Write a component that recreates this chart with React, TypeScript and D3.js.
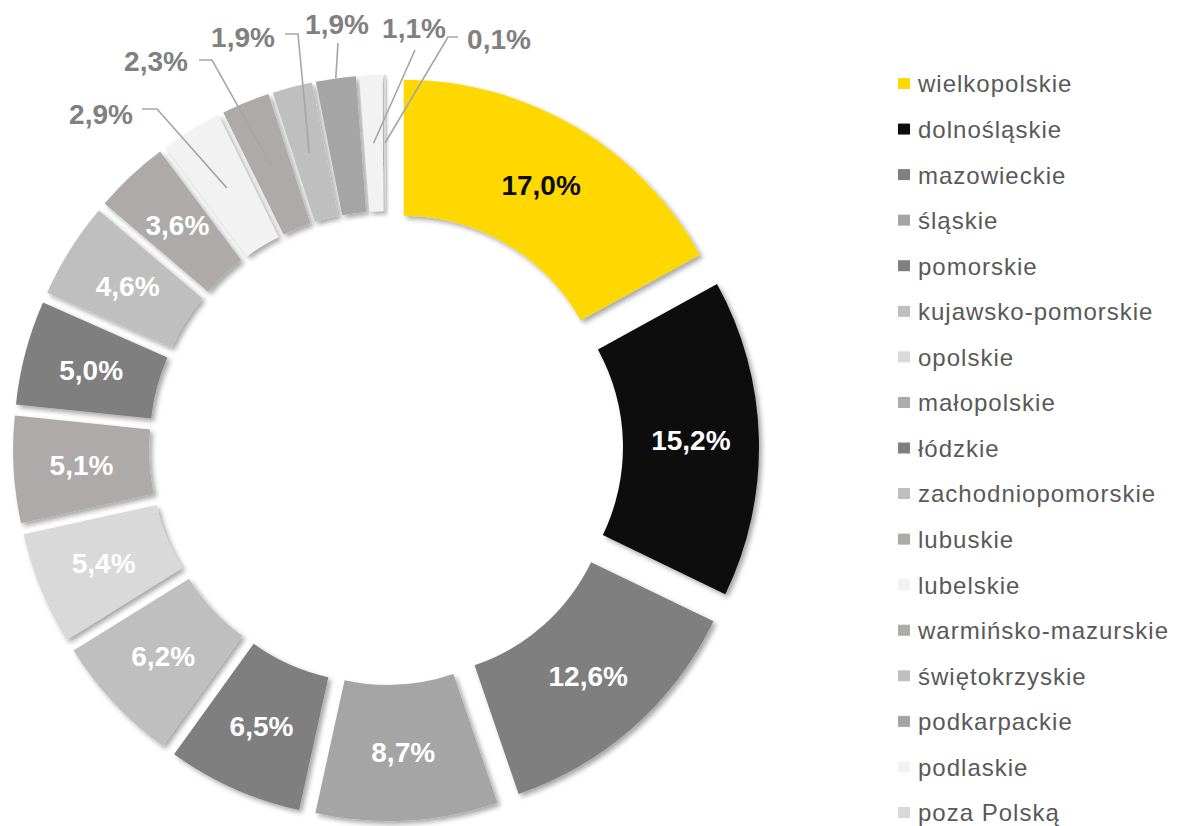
import React from "react";
import * as d3 from "d3";

const categories = [
  "wielkopolskie", "dolnośląskie", "mazowieckie", "śląskie", "pomorskie",
  "kujawsko-pomorskie", "opolskie", "małopolskie", "łódzkie", "zachodniopomorskie",
  "lubuskie", "lubelskie", "warmińsko-mazurskie", "świętokrzyskie", "podkarpackie",
  "podlaskie", "poza Polską",
];
const values = [17.0, 15.2, 12.6, 8.7, 6.5, 6.2, 5.4, 5.1, 5.0, 4.6, 3.6, 2.9, 2.3, 1.9, 1.9, 1.1, 0.1];
const colors = [
  "#FFD800", "#0D0D0D", "#7F7F7F", "#A5A5A5", "#7F7F7F",
  "#BFBFBF", "#D9D9D9", "#AEAAAA", "#7F7F7F", "#BFBFBF",
  "#AEAAAA", "#F2F2F2", "#AEAAAA", "#BFBFBF", "#A5A5A5",
  "#F2F2F2", "#D9D9D9",
];
const labelColors = [
  "#0D0D0D", "#FFFFFF", "#FFFFFF", "#FFFFFF", "#FFFFFF",
  "#FFFFFF", "#FFFFFF", "#FFFFFF", "#FFFFFF", "#FFFFFF", "#FFFFFF",
];

// layout for outside labels (index into data, text centre, elbow points, leader end mode)
const outsideLayout = [
  { i: 11, tx: 101, ty: 114, pts: [[142, 109], [157, 109]], end: "centroid" },
  { i: 12, tx: 156, ty: 61, pts: [[199, 60], [212, 60]], end: "centroid" },
  { i: 13, tx: 243, ty: 37, pts: [[285, 34], [298, 34]], end: "centroid" },
  { i: 14, tx: 337, ty: 24, pts: [[338, 43]], end: "outer" },
  { i: 15, tx: 414, ty: 28, pts: [[415, 50]], end: "centroid" },
  { i: 16, tx: 499, ty: 39, pts: [[458, 37], [448, 37]], end: "centroid" },
];

const W = 1178;
const H = 826;
const cx = 386;
const cy = 448;
const R = 338;
const r = 202;
const explode = 35;

const fmt = (v: number) => v.toFixed(1).replace(".", ",") + "%";

export default function App() {
  const pie = d3.pie<number>().sort(null).value((d) => d).startAngle(0).endAngle(2 * Math.PI);
  const arcs = pie(values);
  const arcGen = d3.arc<d3.PieArcDatum<number>>().innerRadius(r).outerRadius(R);

  const off = (a: d3.PieArcDatum<number>) => {
    const m = (a.startAngle + a.endAngle) / 2;
    return [explode * Math.sin(m), -explode * Math.cos(m)];
  };
  const polar = (ang: number, rad: number) => [cx + rad * Math.sin(ang), cy - rad * Math.cos(ang)];

  const legendY = d3.scaleLinear().domain([0, categories.length - 1]).range([84, 813]);

  return (
    <svg width={W} height={H} style={{ position: "absolute", left: 0, top: 0, background: "#fff" }}
      fontFamily="'Liberation Sans', Arial, sans-serif">
      <defs>
        <filter id="sh" x="-20%" y="-20%" width="140%" height="140%">
          <feDropShadow dx="3" dy="3" stdDeviation="2.5" floodColor="#000" floodOpacity="0.35" />
        </filter>
      </defs>
      <g>
        {arcs.map((a, i) => {
          const [dx, dy] = off(a);
          return (
            <path key={i} d={arcGen(a) || ""} fill={colors[i]} filter="url(#sh)"
              transform={`translate(${cx + dx},${cy + dy})`} />
          );
        })}
      </g>
      <g>
        {arcs.slice(0, 11).map((a, i) => {
          const m = (a.startAngle + a.endAngle) / 2;
          const [x, y] = polar(m, (R + r) / 2 + explode);
          return (
            <text key={i} x={x} y={y} dy="0.35em" textAnchor="middle" fontSize={28} fontWeight="bold"
              fill={labelColors[i]}>{fmt(values[i])}</text>
          );
        })}
      </g>
      <g>
        {outsideLayout.map((o) => {
          const a = arcs[o.i];
          const m = (a.startAngle + a.endAngle) / 2;
          const endPt = o.end === "outer" ? polar(m, R + explode) : polar(m, (R + r) / 2 + explode);
          const pts = [...o.pts, endPt] as [number, number][];
          const line = d3.line()(pts) || "";
          return (
            <g key={o.i}>
              <path d={line} fill="none" stroke="#A6A6A6" strokeWidth={1.6} />
              <text x={o.tx} y={o.ty} dy="0.35em" textAnchor="middle" fontSize={28} fontWeight="bold"
                fill="#808080">{fmt(values[o.i])}</text>
            </g>
          );
        })}
      </g>
      <g>
        {categories.map((c, i) => (
          <g key={c} transform={`translate(898,${legendY(i)})`}>
            <rect x={0} y={-6} width={12} height={11} fill={colors[i]} />
            <text x={20} y={0} dy="0.35em" fontSize={24} letterSpacing={1} fill="#595959">{c}</text>
          </g>
        ))}
      </g>
    </svg>
  );
}
